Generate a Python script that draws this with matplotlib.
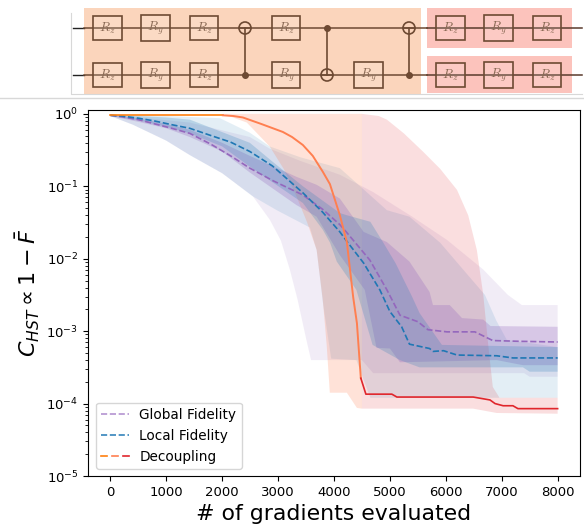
import numpy as np
from matplotlib import pyplot as plt
from matplotlib.legend_handler import HandlerTuple
from matplotlib.lines import Line2D
from matplotlib.patches import Rectangle, Circle

# all values are log10 of the cost
# means
g_x = [0, 200, 500, 800, 1100, 1422, 1800, 2150, 2495, 2900, 3443, 3800, 4105, 4230, 4642, 4946, 5180, 5500, 5680, 6020, 6520, 6840, 7300, 8000]
g_y = [-0.02, -0.04, -0.08, -0.14, -0.2, -0.27, -0.42, -0.58, -0.75, -0.92, -1.12, -1.32, -1.53, -1.64, -2.02, -2.43, -2.78, -2.87, -2.98, -3.01, -3.01, -3.13, -3.14, -3.15]
l_x = [0, 200, 500, 800, 1100, 1422, 1800, 2150, 2495, 2900, 3443, 3800, 4105, 4230, 4530, 4820, 5000, 5210, 5350, 5710, 5770, 5960, 6200, 6910, 7200, 8000]
l_y = [-0.02, -0.03, -0.06, -0.1, -0.15, -0.2, -0.3, -0.39, -0.52, -0.72, -1.09, -1.36, -1.63, -1.76, -2.06, -2.43, -2.73, -2.94, -3.18, -3.24, -3.28, -3.27, -3.33, -3.34, -3.37, -3.37]
d_x = [0, 1500, 2012, 2200, 2370, 2700, 3085, 3250, 3443, 3620, 3800, 3927, 4105, 4230, 4343, 4410, 4480, 4570, 5035, 5125, 6490, 6790, 6880, 7025, 7200, 7290, 8000]
d_y = [-0.02, -0.02, -0.02, -0.03, -0.05, -0.14, -0.25, -0.32, -0.43, -0.58, -0.8, -0.97, -1.4, -1.77, -2.53, -2.89, -3.65, -3.87, -3.87, -3.91, -3.91, -3.95, -4.0, -4.03, -4.03, -4.07, -4.07]
split_a = 2    # orange up to here
split_b = 16   # red from here

# narrow bands
g_hi_x = [0, 500, 1000, 1422, 2000, 2495, 3330, 3690, 4105, 4530, 4946, 5350, 5710, 5770, 6070, 6290, 6670, 6800, 8000]
g_hi = [-0.01, -0.06, -0.14, -0.22, -0.4, -0.58, -0.87, -0.98, -1.17, -1.63, -1.77, -2.04, -2.46, -2.64, -2.64, -2.82, -2.84, -2.93, -2.94]
g_lo_x = [0, 500, 1000, 1422, 2000, 2495, 3330, 3690, 4105, 4550, 4760, 5000, 5180, 6910, 7380, 8000]
g_lo = [-0.03, -0.11, -0.2, -0.32, -0.52, -0.81, -1.26, -1.42, -1.95, -2.43, -3.23, -3.24, -3.43, -3.4, -3.47, -3.47]
l_hi_x = [0, 500, 1000, 1422, 1960, 2495, 2900, 3443, 4105, 4230, 4650, 4875, 5100, 5400, 5530, 5930, 8000]
l_hi = [-0.01, -0.03, -0.05, -0.08, -0.24, -0.4, -0.66, -1.0, -1.37, -1.4, -1.49, -1.77, -2.06, -2.53, -2.75, -3.19, -3.22]
l_lo_x = [0, 500, 1000, 1422, 2000, 2495, 3443, 3800, 3930, 4050, 4400, 4690, 5180, 5530, 7380, 7500, 8000]
l_lo = [-0.03, -0.09, -0.18, -0.27, -0.45, -0.73, -1.23, -1.6, -1.78, -2.04, -2.43, -3.19, -3.4, -3.5, -3.5, -3.56, -3.56]

# wide bands
gw_hi_x = [0, 1422, 2495, 2850, 3400, 4105, 4700, 5400, 6020, 6670, 7110, 7360, 8000]
gw_hi = [-0.01, -0.12, -0.32, -0.48, -0.65, -0.84, -1.08, -1.42, -1.74, -2.15, -2.5, -2.64, -2.64]
gw_lo_x = [0, 403, 1000, 1422, 2000, 2550, 2850, 3050, 3210, 3350, 3500, 3590, 4500, 4700, 7400, 7500, 8000]
gw_lo = [-0.03, -0.15, -0.37, -0.57, -0.82, -1.14, -1.46, -1.75, -2.15, -2.57, -3.1, -3.4, -3.4, -3.58, -3.58, -3.63, -3.63]
lw_hi_x = [0, 1000, 1960, 2495, 2850, 3400, 4105, 4946, 5350, 5900, 6310, 6700, 6900, 7090, 8000]
lw_hi = [-0.01, -0.03, -0.06, -0.26, -0.45, -0.6, -0.75, -1.33, -1.42, -1.78, -2.15, -2.5, -2.85, -3.12, -3.22]
lw_lo_x = [0, 403, 1000, 1422, 2000, 2550, 2975, 3570, 3690, 3800, 3950, 4400, 4650, 8000]
lw_lo = [-0.03, -0.15, -0.37, -0.57, -0.82, -1.14, -1.33, -1.57, -1.88, -2.6, -3.38, -3.4, -3.92, -3.92]
o_lo_x = [2012, 2440, 2850, 3100, 3330, 3520, 3690, 3800, 3870, 3925, 4230, 4410, 4500]
o_lo = [0.0, -0.12, -0.45, -0.76, -1.14, -1.5, -1.88, -2.57, -3.2, -3.85, -3.85, -4.06, -4.07]
r_hi_x = [4500, 4800, 4946, 5250, 5590, 5900, 6200, 6400, 6555, 6670, 6760, 6840, 6960, 8000]
r_hi = [0.0, -0.03, -0.08, -0.27, -0.52, -0.76, -1.05, -1.4, -1.88, -2.5, -3.2, -3.77, -3.92, -3.92]
r_lo_x = [4500, 6490, 6910, 8000]
r_lo = [-4.07, -4.07, -4.13, -4.14]

legend_labels = ['Global Fidelity', 'Local Fidelity', 'Decoupling']
purple = '#9467bd'
blue = '#1f77b4'
orange = '#ff7f0e'
coral = '#ff7f50'
red = '#e0262c'
brown = '#6e4a33'


def band(ax, xh, yh, xl, yl, color, alpha):
    xs = np.r_[xh, np.array(xl)[::-1]]
    ys = 10.0 ** np.r_[yh, np.array(yl)[::-1]]
    ax.fill(xs, ys, color=color, alpha=alpha, lw=0)


fig = plt.figure(figsize=(5.84, 5.25), dpi=100)
ax = fig.add_axes([88 / 584, 1 - 476 / 525, (580 - 88) / 584, (476 - 110) / 525])

band(ax, gw_hi_x, gw_hi, gw_lo_x, gw_lo, purple, 0.12)
band(ax, lw_hi_x, lw_hi, lw_lo_x, lw_lo, blue, 0.12)
band(ax, [2012, 4500], [0, 0], o_lo_x, o_lo, coral, 0.22)
band(ax, r_hi_x, r_hi, r_lo_x, r_lo, red, 0.15)
band(ax, g_hi_x, g_hi, g_lo_x, g_lo, purple, 0.28)
band(ax, l_hi_x, l_hi, l_lo_x, l_lo, blue, 0.22)

ax.plot(g_x, 10.0 ** np.array(g_y), '--', color=purple, lw=1.2)
ax.plot(l_x, 10.0 ** np.array(l_y), '--', color=blue, lw=1.2)
d_x = np.array(d_x)
d_y = 10.0 ** np.array(d_y)
ax.plot(d_x[:split_a + 1], d_y[:split_a + 1], color=orange, lw=1.2)
ax.plot(d_x[split_a:split_b + 1], d_y[split_a:split_b + 1], color=coral, lw=1.4)
ax.plot(d_x[split_b:], d_y[split_b:], color=red, lw=1.2)

ax.set_yscale('log')
ax.set_xlim(-400, 8400)
ax.set_ylim(1e-5, 1.13)
ax.tick_params(labelsize=9.5)
ax.set_xlabel('# of gradients evaluated', fontsize=15.8, labelpad=4)
ax.set_ylabel(r'$C_{HST} \propto 1 - \bar{F}$', fontsize=16, labelpad=3)

h1 = Line2D([], [], ls='--', color=purple, alpha=0.7, lw=1.2)
h2 = Line2D([], [], ls='--', color=blue, alpha=0.9, lw=1.2)
h3 = (Line2D([], [], color=orange, lw=1.2), Line2D([], [], color=coral, lw=1.2), Line2D([], [], color=red, lw=1.2))
ax.legend([h1, h2, h3], legend_labels, handler_map={tuple: HandlerTuple(ndivide=None)},
          loc='lower left', fontsize=9.8, bbox_to_anchor=(0.016, 0.019), borderaxespad=0)

# circuit drawn in pixel coordinates on top of the figure
top = fig.add_axes([0, 0, 1, 1], facecolor='none')
top.set_xlim(0, 584)
top.set_ylim(525, 0)
top.axis('off')

top.plot([0, 584], [98, 98], color='#d8d8d8', lw=1)
top.plot([71, 71, 582], [13, 94, 94], color='#d8d8d8', lw=0.8)
top.add_patch(Rectangle((84, 8), 337, 86, color='#fbd5bc', lw=0))
top.add_patch(Rectangle((427, 8), 145, 40, color='#fcc3bc', lw=0))
top.add_patch(Rectangle((427, 56), 145, 37, color='#fcc3bc', lw=0))

wire_y = [28, 75]
for y in wire_y:
    top.plot([73, 84], [y, y], color='#222222', lw=1)
    top.plot([84, 427], [y, y], color=brown, lw=1.1)
    top.plot([427, 582], [y, y], color='#5a3a2c', lw=1.1)


def gate(x0, x1, y, name):
    half = 13 if name == 'y' else 12
    top.add_patch(Rectangle((x0, y - half), x1 - x0, 2 * half, fc=(1, 1, 1, 0.12), ec=brown, lw=1.2, zorder=3))
    top.text((x0 + x1) / 2, y, '$R_%s$' % name, ha='center', va='center', fontsize=9.5,
             math_fontfamily='cm', color='#8a6a55', zorder=4)


def cnot(x, y_ctrl, y_targ):
    top.plot([x, x], [y_ctrl, y_targ], color=brown, lw=1.2, zorder=3)
    top.plot([x], [y_ctrl], 'o', color=brown, ms=4, zorder=4)
    top.add_patch(Circle((x, y_targ), 6, fc='none', ec=brown, lw=1.2, zorder=4))
    top.plot([x - 6, x + 6], [y_targ, y_targ], color=brown, lw=1.1, zorder=4)


for y in wire_y:
    gate(93, 122, y, 'z')
    gate(141, 170, y, 'y')
    gate(190, 218, y, 'z')
    gate(436, 465, y, 'z')
    gate(484, 513, y, 'y')
    gate(533, 561, y, 'z')
gate(272, 300, wire_y[0], 'z')
gate(272, 300, wire_y[1], 'y')
gate(354, 383, wire_y[1], 'y')
cnot(245, wire_y[1], wire_y[0])
cnot(327, wire_y[0], wire_y[1])
cnot(409, wire_y[1], wire_y[0])

fig.savefig('out.png', dpi=100)
